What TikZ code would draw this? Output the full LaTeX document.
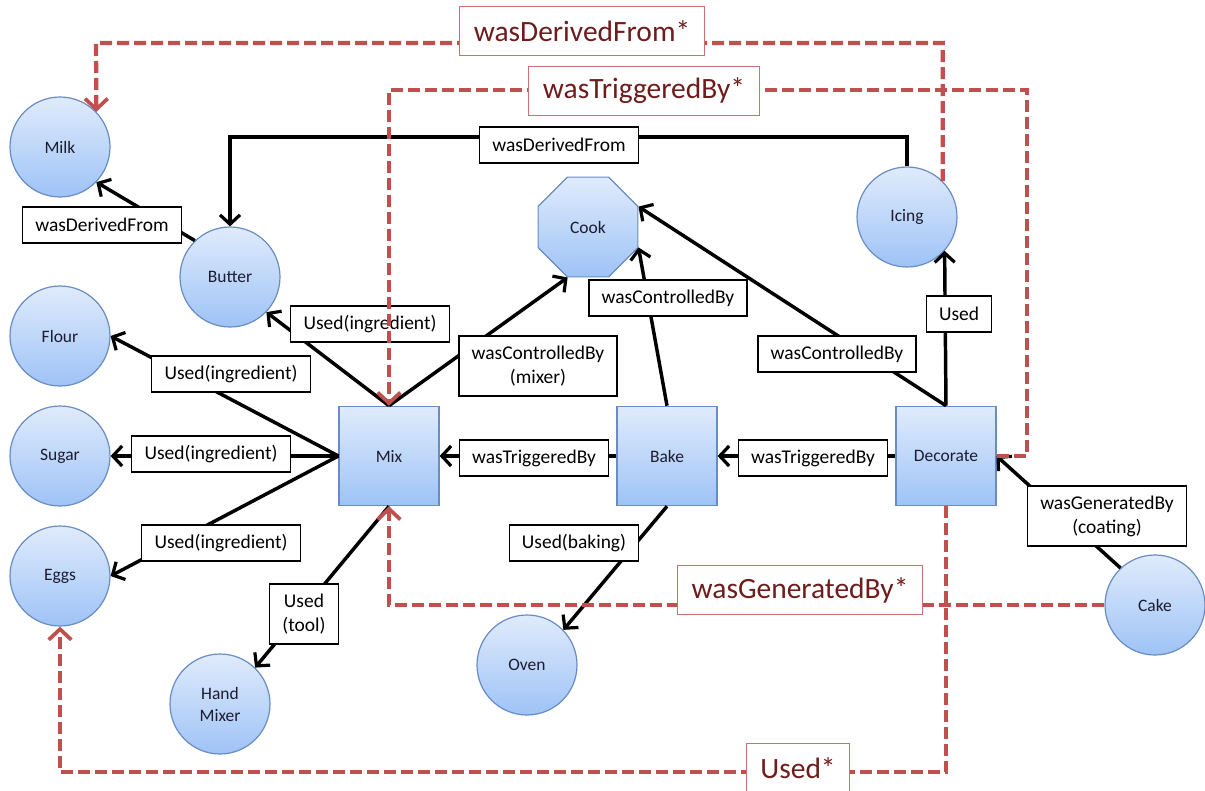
\documentclass[tikz,border=0pt]{standalone}
\usepackage{fontspec}
\setmainfont{Carlito}
\usetikzlibrary{arrows.meta,shapes.geometric}

\definecolor{nodeTop}{RGB}{224,235,252}
\definecolor{nodeBot}{RGB}{158,195,246}
\definecolor{nodeLine}{RGB}{105,140,196}
\definecolor{nodeText}{RGB}{28,28,48}
\definecolor{starRed}{RGB}{192,80,77}
\definecolor{starText}{RGB}{110,28,28}
\definecolor{starBorder}{RGB}{208,112,110}

\tikzset{
  filled/.style={draw=nodeLine, line width=0.9pt, top color=nodeTop, bottom color=nodeBot,
    text=nodeText, font=\fontsize{13.1pt}{16.5pt}\selectfont, align=center, inner sep=0pt},
  ent/.style={filled, circle, minimum size=75pt},
  act/.style={filled, rectangle, minimum width=75pt, minimum height=74.5pt},
  agent/.style={filled, regular polygon, regular polygon sides=8, minimum size=81pt},
  lbl/.style={draw=black, line width=0.8pt, fill=white, text=black,
    font=\fontsize{14.6pt}{18pt}\selectfont, inner xsep=9.5pt, inner ysep=0pt,
    minimum height=27pt, align=center},
  lbltwo/.style={lbl, inner ysep=3pt, minimum height=45pt},
  starlbl/.style={draw=starBorder, line width=0.8pt, fill=white, text=starText,
    font=\fontsize{22.1pt}{26pt}\selectfont, inner xsep=10.5pt, inner ysep=0pt,
    minimum height=36.75pt},
  rel/.style={black, line width=2.6pt,
    -{Straight Barb[length=7pt, width=15pt, line width=2.4pt]}},
  star/.style={starRed, line width=3.2pt, dash pattern=on 9pt off 3.75pt,
    -{Straight Barb[length=8pt, width=17pt, line width=2.8pt]}},
}

\begin{document}
\begin{tikzpicture}[x=0.75pt, y=-0.75pt]
\useasboundingbox (0,0) rectangle (1205,791);

% entities
\node[ent] (milk)   at (60,147)   {Milk};
\node[ent] (butter) at (230,277)  {Butter};
\node[ent] (flour)  at (60,336)   {Flour};
\node[ent] (sugar)  at (60,456)   {Sugar};
\node[ent] (eggs)   at (60,576)   {Eggs};
\node[ent] (hand)   at (220,704)  {Hand\\Mixer};
\node[ent] (oven)   at (527,665)  {Oven};
\node[ent] (icing)  at (907,217)  {Icing};
\node[ent] (cake)   at (1155,605) {Cake};

% agent
\node[agent] (cook) at (588,227) {Cook};

% activities
\node[act] (mix)  at (389,456) {Mix};
\node[act] (bake) at (667,456) {Bake};
\node[act] (deco) at (946,456) {Decorate};

% direct relations
\coordinate (wdf) at (559,137);
\draw[rel] (butter.134) -- (milk.316);
\draw[rel] (icing.north) |- (wdf) -| (butter.north);
\draw[rel] (mix.north) -- (butter.-44);
\draw[rel] (mix.west) -- (flour.east);
\draw[rel] (mix.west) -- (sugar.east);
\draw[rel] (mix.west) -- (eggs.east);
\draw[rel] (mix.north) -- (cook.-112.5);
\draw[rel] (mix.south) -- (hand.46);
\draw[rel] (bake.west) -- (mix.east);
\draw[rel] (deco.west) -- (bake.east);
\draw[rel] (bake.north) -- (cook.-22.5);
\draw[rel] (deco.north) -- (cook.22.5);
\draw[rel] (deco.north) -- (icing.-42);
\draw[rel] (bake.south) -- (oven.44);
\draw[rel] (cake.133) -- (deco.east);

% relation labels
\node[lbl] (l1)  at (102,225) {wasDerivedFrom};
\node[lbl] (l2)  at (559,145) {wasDerivedFrom};
\node[lbl] (l3)  at (370,324) {Used(ingredient)};
\node[lbl] (l4)  at (231,374) {Used(ingredient)};
\node[lbl] (l5)  at (211,454) {Used(ingredient)};
\node[lbl] (l6)  at (221,543) {Used(ingredient)};
\node[lbltwo] (l7)  at (304,614) {Used\\(tool)};
\node[lbltwo] (l8)  at (538,366) {wasControlledBy\\(mixer)};
\node[lbl] (l9)  at (668,298) {wasControlledBy};
\node[lbl] (l10) at (837,354) {wasControlledBy};
\node[lbl] (l11) at (959,314) {Used};
\node[lbl] (l12) at (534,458) {wasTriggeredBy};
\node[lbl] (l13) at (813,458) {wasTriggeredBy};
\node[lbl] (l14) at (574,543) {Used(baking)};
\node[lbltwo] (l15) at (1107,516) {wasGeneratedBy\\(coating)};

% inferred (transitive) relations
\coordinate (dfL) at (96,43);
\coordinate (trR) at (1027,90);
\coordinate (uBL) at (60,772);
\draw[star] (icing.45) |- (dfL) -- (milk.44);
\draw[star] (deco.east) -| (trR) -| (mix.north);
\draw[star] (cake.west) -| (mix.south);
\draw[star] (deco.south) |- (uBL) -- (eggs.south);

\node[starlbl] (s1) at (582,31)  {wasDerivedFrom*};
\node[starlbl] (s2) at (644,91)  {wasTriggeredBy*};
\node[starlbl] (s3) at (800,590) {wasGeneratedBy*};
\node[starlbl] (s4) at (798,768) {Used*};
\end{tikzpicture}
\end{document}
